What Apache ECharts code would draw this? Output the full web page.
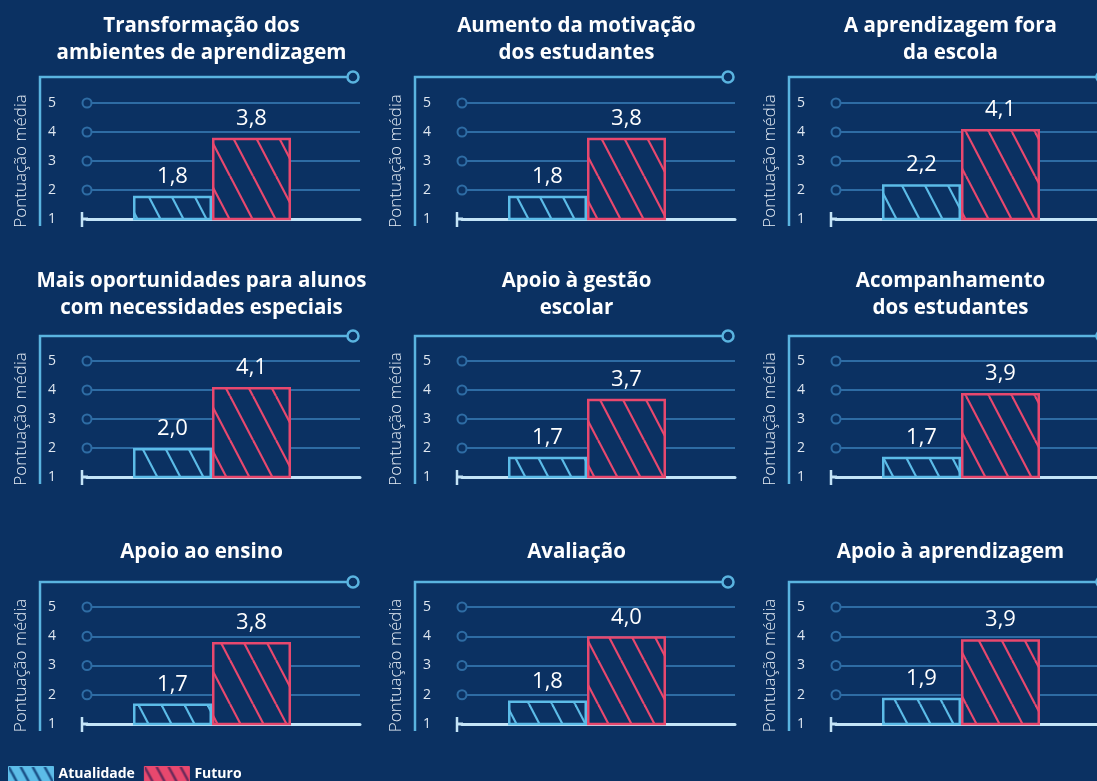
<!DOCTYPE html>
<html><head><meta charset="utf-8">
<script src="https://cdn.jsdelivr.net/npm/echarts@6/dist/echarts.min.js"></script>
<style>html,body{margin:0;padding:0;background:#0b3162;}#c{width:1097px;height:781px;}</style>
</head><body><div id="c"></div>
<script>
// ---- data ----
const titles = [
  'Transformação dos\nambientes de aprendizagem',
  'Aumento da motivação\ndos estudantes',
  'A aprendizagem fora\nda escola',
  'Mais oportunidades para alunos\ncom necessidades especiais',
  'Apoio à gestão\nescolar',
  'Acompanhamento\ndos estudantes',
  'Apoio ao ensino',
  'Avaliação',
  'Apoio à aprendizagem'
];
const seriesNames = ['Atualidade', 'Futuro'];
const atualidade = [1.8, 1.8, 2.2, 2.0, 1.7, 1.7, 1.7, 1.8, 1.9];
const futuro     = [3.8, 3.8, 4.1, 4.1, 3.7, 3.9, 3.8, 4.0, 3.9];
const yMin = 1, yMax = 5, yStep = 1;
const yAxisName = 'Pontuação média';

// ---- style / layout ----
const BG = '#0b3162';
const FRAME = '#5ab4e0';
const GRIDC = '#2e6ca4';
const BASE = '#c4e4f7';
const BLUE = '#5cbce8';
const RED = '#e8486e';
const FONT = "'Open Sans', 'Noto Sans', sans-serif";
const colX = [40, 415, 789];
const frameY = [77, 336, 582];
const top5 = [103, 361, 607];
const base1 = [219, 477, 724];
const titleTop = [8, 263, 534];

function hatch(bg, lineColor, W, H, lw) {
  const c = document.createElement('canvas');
  c.width = W; c.height = H;
  const g = c.getContext('2d');
  g.fillStyle = bg; g.fillRect(0, 0, W, H);
  g.strokeStyle = lineColor; g.lineWidth = lw;
  for (const x0 of [-W, 0, W]) {
    g.beginPath(); g.moveTo(x0, 0); g.lineTo(x0 + W, H); g.stroke();
  }
  return { image: c, repeat: 'repeat' };
}
const patBlue = hatch(BG, BLUE, 23, 44, 2.2);
const patRed = hatch(BG, RED, 23, 44, 2.2);
const legBlue = hatch(BLUE, '#1a4f86', 12, 22, 2.5);
const legRed = hatch(RED, '#6a2a5a', 12, 22, 2.5);

const chart = echarts.init(document.getElementById('c'), null, { renderer: 'canvas' });

const grid = [], xAxis = [], yAxis = [], series = [], title = [];
titles.forEach((t, i) => {
  const r = Math.floor(i / 3), c = i % 3;
  const ox = colX[c];
  const h = base1[r] - top5[r];
  title.push({
    text: t, left: ox + 156.5, top: titleTop[r], textAlign: 'center',
    textStyle: { color: '#ffffff', fontSize: 20.5, fontWeight: 'bold', lineHeight: 27, fontFamily: FONT }
  });
  // decor grid
  grid.push({ left: ox + 47, top: top5[r], width: 273, height: h, containLabel: false });
  // bar grid
  grid.push({ left: ox + 47, top: top5[r], width: 250, height: h, containLabel: false });
  xAxis.push({
    type: 'category', gridIndex: 2 * i, data: [''],
    axisLine: { show: true, lineStyle: { color: BASE, width: 3 } },
    axisTick: { show: false }, axisLabel: { show: false }, splitLine: { show: false }
  });
  xAxis.push({ type: 'category', gridIndex: 2 * i + 1, data: [''], show: false });
  yAxis.push({
    type: 'value', gridIndex: 2 * i, min: yMin, max: yMax, interval: yStep,
    name: yAxisName, nameLocation: 'middle', nameRotate: 90, nameGap: 57,
    nameTextStyle: { color: '#e6edf5', fontSize: 17, fontWeight: 300, fontFamily: FONT },
    axisLine: { show: false }, axisTick: { show: false },
    axisLabel: { color: '#dfe7f0', fontSize: 14, margin: 31, fontFamily: FONT },
    splitLine: { show: true, lineStyle: { color: GRIDC, width: 2 } }
  });
  yAxis.push({ type: 'value', gridIndex: 2 * i + 1, min: yMin, max: yMax, interval: yStep, show: false, splitLine: { show: false } });
  const lab = {
    show: true, position: 'top', distance: 8, color: '#ffffff', fontSize: 22, fontFamily: FONT,
    formatter: p => p.value.toFixed(1).replace('.', ',')
  };
  series.push({
    name: seriesNames[0], type: 'bar', xAxisIndex: 2 * i + 1, yAxisIndex: 2 * i + 1,
    data: [atualidade[i]], barWidth: 79, barGap: '0%', z: 5,
    itemStyle: { color: patBlue, borderColor: BLUE, borderWidth: 2.5 }, label: lab,
    emphasis: { disabled: true }
  });
  series.push({
    name: seriesNames[1], type: 'bar', xAxisIndex: 2 * i + 1, yAxisIndex: 2 * i + 1,
    data: [futuro[i]], barWidth: 79, barGap: '0%', z: 5,
    itemStyle: { color: patRed, borderColor: RED, borderWidth: 2.5 }, label: lab,
    emphasis: { disabled: true }
  });
});

chart.setOption({
  backgroundColor: BG,
  animation: false,
  title, grid, xAxis, yAxis, series,
  legend: {
    left: 3, top: 761, itemWidth: 45, itemHeight: 15, itemGap: 9, selectedMode: false,
    textStyle: { color: '#ffffff', fontSize: 14, fontWeight: 'bold', fontFamily: FONT },
    data: [
      { name: seriesNames[0], icon: 'rect', itemStyle: { color: legBlue, borderColor: BLUE, borderWidth: 1 } },
      { name: seriesNames[1], icon: 'rect', itemStyle: { color: legRed, borderColor: RED, borderWidth: 1 } }
    ]
  }
});

// decorative frame, ring markers and baseline tick, placed from the axes' own scales
const graphic = [];
titles.forEach((t, i) => {
  const r = Math.floor(i / 3), c = i % 3;
  const ox = colX[c];
  const yBase = chart.convertToPixel({ yAxisIndex: 2 * i }, yMin);
  graphic.push({
    type: 'polyline', z: 10, silent: true,
    shape: { points: [[ox, yBase + 7], [ox, frameY[r]], [ox + 313, frameY[r]]] },
    style: { stroke: FRAME, lineWidth: 2.5, fill: null }
  });
  graphic.push({
    type: 'circle', z: 11, silent: true,
    shape: { cx: ox + 313, cy: frameY[r], r: 5.5 },
    style: { fill: BG, stroke: FRAME, lineWidth: 2.5 }
  });
  for (let v = yMin + yStep; v <= yMax; v += yStep) {
    const y = chart.convertToPixel({ yAxisIndex: 2 * i }, v);
    graphic.push({
      type: 'circle', z: 11, silent: true,
      shape: { cx: ox + 47, cy: y, r: 4.5 },
      style: { fill: BG, stroke: GRIDC, lineWidth: 2 }
    });
  }
  graphic.push({
    type: 'line', z: 10, silent: true,
    shape: { x1: ox + 42, y1: yBase, x2: ox + 48, y2: yBase },
    style: { stroke: BASE, lineWidth: 3 }
  });
  graphic.push({
    type: 'line', z: 10, silent: true,
    shape: { x1: ox + 42, y1: yBase - 7, x2: ox + 42, y2: yBase + 8 },
    style: { stroke: BASE, lineWidth: 2.5 }
  });
});
chart.setOption({ graphic });
</script>
</body></html>
